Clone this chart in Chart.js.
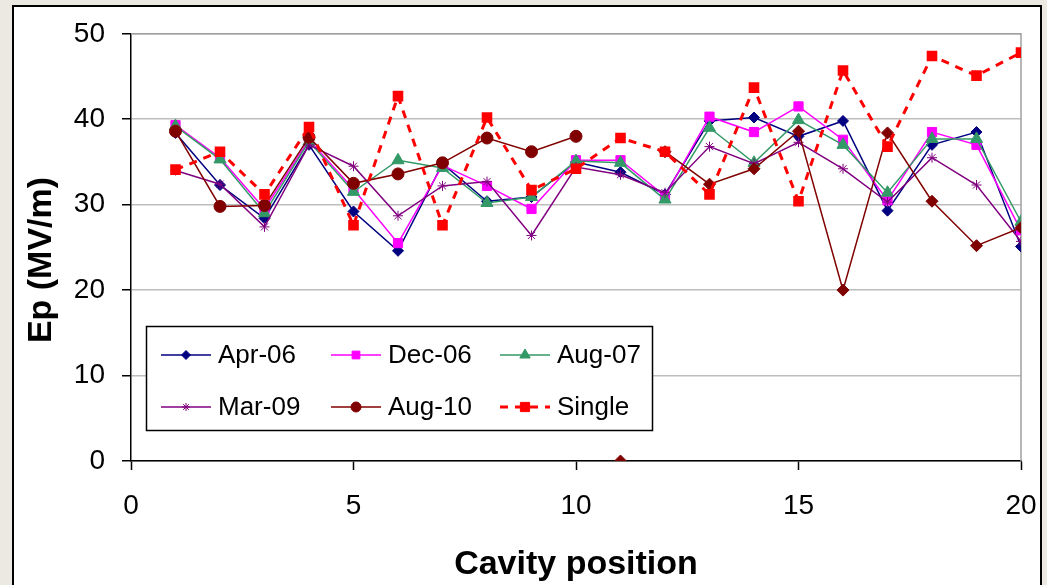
<!DOCTYPE html>
<html>
<head>
<meta charset="utf-8">
<script src="https://cdn.jsdelivr.net/npm/chart.js@4.4.0/dist/chart.umd.min.js"></script>
<style>
body{margin:0;background:#ECE9E2;width:1047px;height:585px;overflow:hidden;position:relative;}
#frame{position:absolute;left:12px;top:5px;width:1026px;height:600px;border:2px solid #000;background:#fff;}
#c{position:absolute;left:0;top:0;}
</style>
</head>
<body>
<div id="frame"></div>
<canvas id="c" width="1047" height="585"></canvas>
<script>
// cavity positions
const positions = [1,2,3,4,5,6,7,8,9,10,11,12,13,14,15,16,17,18,19,20];

// Ep (MV/m) per measurement
const apr06  = [38.4,32.3,28.4,37.0,29.2,24.6,34.8,30.4,30.9,35.0,33.8,31.2,39.8,40.2,38.0,39.8,29.3,37.0,38.5,25.1];
const dec06  = [39.3,35.5,29.5,37.6,31.8,25.5,34.6,32.2,29.5,35.2,35.2,31.0,40.3,38.5,41.5,37.6,30.5,38.5,37.0,27.0];
const aug07  = [39.2,35.3,29.0,37.4,31.5,35.2,34.3,30.2,30.9,35.1,34.9,30.6,39.0,34.9,39.9,37.0,31.4,37.7,37.7,28.0];
const mar09  = [34.0,32.4,27.4,37.0,34.5,28.7,32.2,32.7,26.4,34.4,33.5,31.4,36.8,34.8,37.3,34.2,30.3,35.5,32.3,25.7];
const aug10  = [38.6,29.8,29.9,37.9,32.5,33.6,34.9,37.8,36.2,38.0,0,36.2,32.4,34.2,38.6,20.0,38.4,30.4,25.2,27.3];
const single = [34.1,36.2,31.2,39.1,27.6,42.7,27.6,40.2,31.7,34.2,37.8,36.2,31.2,43.7,30.4,45.7,36.8,47.4,45.1,47.8];

const yTicks = [0,10,20,30,40,50];
const xTicks = [0,5,10,15,20];

const pts = arr => positions.map((x, i) => ({x: x, y: arr[i]}));
const font = 'Liberation Sans, Arial, sans-serif';

const plotFrame = {
    id: 'plotFrame',
    beforeDatasetsDraw(chart) {
        const {ctx, chartArea: a} = chart;
        ctx.save();
        ctx.strokeStyle = '#A0A0A0';
        ctx.lineWidth = 1.5;
        ctx.beginPath();
        ctx.moveTo(a.left, a.top);
        ctx.lineTo(a.right, a.top);
        ctx.lineTo(a.right, a.bottom);
        ctx.stroke();
        ctx.restore();
    },
    afterDraw(chart) {
        // y axis title, sits a bit below the plot centre like the original
        const ctx = chart.ctx;
        ctx.save();
        ctx.translate(42, 260);
        ctx.rotate(-Math.PI / 2);
        ctx.fillStyle = '#000';
        ctx.font = 'bold 34px ' + font;
        ctx.textAlign = 'center';
        ctx.textBaseline = 'middle';
        ctx.fillText('Ep (MV/m)', 0, 0);
        ctx.restore();
    }
};

const legendBox = {
    id: 'legendBox',
    afterDatasetsDraw(chart) {
        const ctx = chart.ctx;
        ctx.save();
        ctx.fillStyle = '#fff';
        ctx.fillRect(146, 326, 507, 105);
        ctx.strokeStyle = '#000';
        ctx.lineWidth = 1.5;
        ctx.strokeRect(146.5, 326.5, 506, 104);
        chart.data.datasets.forEach((ds, i) => {
            const x0 = [161, 331, 500][i % 3];
            const y = [355, 407][Math.floor(i / 3)];
            ctx.strokeStyle = ds.borderColor;
            ctx.lineWidth = ds.borderWidth;
            ctx.setLineDash(ds.borderDash || []);
            ctx.beginPath();
            ctx.moveTo(x0, y);
            ctx.lineTo(x0 + 50, y);
            ctx.stroke();
            ctx.setLineDash([]);
            ctx.fillStyle = ds.pointBackgroundColor;
            ctx.strokeStyle = ds.pointBorderColor;
            ctx.lineWidth = 1;
            const style = Array.isArray(ds.pointStyle) ? ds.pointStyle[0] : ds.pointStyle;
            Chart.helpers.drawPoint(ctx, {pointStyle: style, radius: ds.pointRadius - 1, rotation: 0, borderWidth: 1}, x0 + 25, y);
            ctx.fillStyle = '#000';
            ctx.font = '26px ' + font;
            ctx.textBaseline = 'middle';
            ctx.fillText(ds.label, x0 + 57, y + 1);
        });
        ctx.restore();
    }
};

function series(label, data, color, style, radius, extra) {
    return Object.assign({
        label: label,
        data: pts(data),
        borderColor: color,
        backgroundColor: color,
        pointBackgroundColor: color,
        pointBorderColor: color,
        borderWidth: 1.5,
        pointStyle: style,
        pointRadius: radius,
        pointBorderWidth: 1,
        tension: 0
    }, extra || {});
}

const hidden = 'rgba(0,0,0,0)';

new Chart(document.getElementById('c'), {
    type: 'line',
    data: {
        datasets: [
            series('Apr-06', apr06, '#000080', 'rectRot', 5.5, {order: 6}),
            series('Dec-06', dec06, '#FF00FF', 'rect', 6.5, {order: 5}),
            series('Aug-07', aug07, '#339966', 'triangle', 7, {order: 4}),
            series('Mar-09', mar09, '#800080', 'star', 5, {order: 3}),
            series('Aug-10', aug10, '#800000', positions.map(p => p <= 10 ? 'circle' : 'rectRot'), 6, {
                order: 2,
                segment: {borderColor: c => (c.p0DataIndex === 9 || c.p0DataIndex === 10) ? hidden : undefined}
            }),
            series('Single', single, '#FF0000', 'rect', 7.5, {order: 1, borderWidth: 3, borderDash: [8, 7], pointBorderWidth: 0})
        ]
    },
    options: {
        responsive: false,
        animation: false,
        layout: {padding: {top: 32, right: 26, left: 0, bottom: 0}},
        plugins: {legend: {display: false}, tooltip: {enabled: false}},
        scales: {
            x: {
                type: 'linear',
                min: 0, max: 20,
                afterFit: s => { s.height = 124; s.paddingLeft = 0; s.paddingRight = 0; },
                afterBuildTicks: s => { s.ticks = xTicks.map(v => ({value: v})); },
                grid: {drawOnChartArea: false, tickLength: 9, tickColor: '#000', tickWidth: 1.5},
                border: {color: '#000', width: 1.5},
                ticks: {color: '#000', font: {family: font, size: 28}, padding: 19, maxRotation: 0},
                title: {display: true, text: 'Cavity position', color: '#000', font: {family: font, size: 34, weight: 'bold'}, padding: {top: 10, bottom: 0}}
            },
            y: {
                min: 0, max: 50,
                afterFit: s => { s.width = 131; },
                afterBuildTicks: s => { s.ticks = yTicks.map(v => ({value: v})); },
                grid: {color: '#BDBDBD', lineWidth: 1.5, tickLength: 9, tickColor: '#000', tickWidth: 1.5},
                border: {color: '#000', width: 1.5},
                ticks: {color: '#000', font: {family: font, size: 28}, padding: 17}
            }
        }
    },
    plugins: [plotFrame, legendBox]
});
</script>
</body>
</html>
